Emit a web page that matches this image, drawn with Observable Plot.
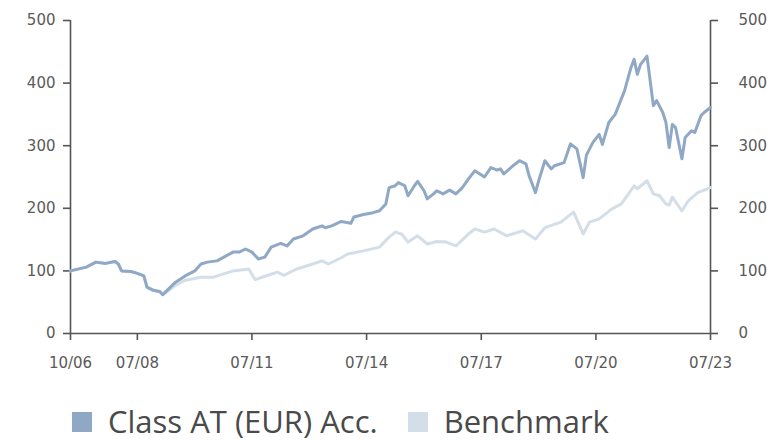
<!DOCTYPE html>
<html>
<head>
<meta charset="utf-8">
<script src="https://cdn.jsdelivr.net/npm/d3@7"></script>
<script src="https://cdn.jsdelivr.net/npm/@observablehq/plot@0.6"></script>
<style>
  html, body { margin: 0; padding: 0; background: #fff; }
  #chart { width: 771px; }
  .legend { display: flex; align-items: center; margin-top: 28px; padding-left: 72px; font-family: "Open Sans", sans-serif; font-size: 31px; line-height: 1.2; color: #4a4a4a; }
  .legend .item { display: flex; align-items: center; margin-right: 30px; }
  .legend .sw { width: 20px; height: 20px; margin-right: 16px; flex: none; }
</style>
</head>
<body>
<div id="chart"></div>
<script>
// ---- data ----
const seriesNames = ["Class AT (EUR) Acc.", "Benchmark"];
const seriesColors = ["#8fa8c5", "#d3dee9"];

const fundDates = ["2006-10","2007-03","2007-06","2007-09","2007-12","2008-01","2008-02","2008-05","2008-07","2008-09","2008-10","2008-12","2009-02","2009-03","2009-05","2009-07","2009-10","2010-01","2010-03","2010-05","2010-08","2011-01","2011-03","2011-05","2011-07","2011-09","2011-11","2012-01","2012-04","2012-06","2012-08","2012-11","2013-02","2013-05","2013-06","2013-08","2013-11","2014-02","2014-03","2014-06","2014-09","2014-11","2015-01","2015-02","2015-04","2015-05","2015-07","2015-08","2015-10","2015-11","2016-01","2016-02","2016-04","2016-05","2016-07","2016-09","2016-11","2017-01","2017-03","2017-05","2017-08","2017-10","2017-12","2018-01","2018-02","2018-05","2018-07","2018-09","2018-10","2018-12","2019-01","2019-03","2019-05","2019-06","2019-09","2019-11","2020-01","2020-03","2020-04","2020-06","2020-08","2020-09","2020-11","2021-01","2021-04","2021-06","2021-07","2021-08","2021-09","2021-11","2022-01","2022-02","2022-04","2022-05","2022-06","2022-07","2022-08","2022-10","2022-11","2023-01","2023-02","2023-04","2023-05","2023-07"];
const fundValues = [100,106,114,112,115,111,100,99,96,92,74,69,67,62,72,82,92,100,111,114,116,130,130,135,130,119,122,138,144,140,151,156,167,172,169,172,179,176,186,190,193,196,207,233,236,241,236,220,236,243,228,215,223,228,223,229,223,233,247,260,250,265,261,263,255,268,276,271,252,225,244,276,263,268,273,303,295,249,285,305,318,302,337,350,388,425,438,414,430,443,364,372,353,337,297,334,329,279,313,324,321,348,353,361];

const benchDates = ["2006-10","2007-03","2007-06","2007-09","2007-12","2008-01","2008-02","2008-05","2008-07","2008-09","2008-10","2008-12","2009-02","2009-03","2009-07","2009-10","2010-03","2010-07","2011-01","2011-06","2011-08","2011-12","2012-03","2012-05","2012-09","2013-02","2013-05","2013-07","2013-11","2014-01","2014-06","2014-11","2015-02","2015-04","2015-06","2015-08","2015-11","2016-02","2016-05","2016-08","2016-11","2017-03","2017-05","2017-08","2017-11","2018-03","2018-08","2018-12","2019-03","2019-08","2019-12","2020-03","2020-05","2020-08","2020-12","2021-03","2021-07","2021-08","2021-11","2022-01","2022-03","2022-05","2022-06","2022-07","2022-10","2022-12","2023-03","2023-07"];
const benchValues = [100,106,114,112,115,111,100,99,96,92,74,69,66,62,77,85,90,90,100,103,86,93,98,93,103,111,116,111,121,127,132,138,154,162,159,146,156,143,147,146,140,159,167,162,167,156,164,151,169,178,194,159,178,183,199,207,236,231,244,223,220,207,205,218,196,212,225,233];

const yTicks = [0, 100, 200, 300, 400, 500];
const xTickDates = ["2006-10","2008-07","2011-07","2014-07","2017-07","2020-07","2023-07"];
const xTickLabels = ["10/06","07/08","07/11","07/14","07/17","07/20","07/23"];
const xDomain = ["2006-10", "2023-07"];

// ---- build ----
const parse = d3.utcParse("%Y-%m");
const fund = fundDates.map((d, i) => ({date: parse(d), value: fundValues[i]}));
const bench = benchDates.map((d, i) => ({date: parse(d), value: benchValues[i]}));
const tickDates = xTickDates.map(parse);
const domain = xDomain.map(parse);
const labelFor = new Map(tickDates.map((d, i) => [+d, xTickLabels[i]]));
const axisColor = "#555";

const chart = Plot.plot({
  width: 771,
  height: 375,
  marginLeft: 70,
  marginRight: 61,
  marginTop: 20,
  marginBottom: 42,
  style: {fontFamily: "DejaVu Sans, sans-serif", fontSize: "15px", color: "#5a5a5a", background: "#fff"},
  x: {type: "utc", domain: domain},
  y: {domain: [0, 500]},
  marks: [
    Plot.ruleX(domain, {stroke: axisColor, strokeWidth: 1.6}),
    Plot.ruleY([0], {stroke: axisColor, strokeWidth: 1.6}),
    Plot.axisY({anchor: "left", ticks: yTicks, tickSize: 7, tickPadding: 8, stroke: axisColor, strokeWidth: 1.6, label: null}),
    Plot.axisY({anchor: "right", ticks: yTicks, tickSize: 7, tickPadding: 21, textAnchor: "start", stroke: axisColor, strokeWidth: 1.6, label: null}),
    Plot.axisX({ticks: tickDates, tickFormat: d => labelFor.get(+d), tickSize: 7, tickPadding: 17, stroke: axisColor, strokeWidth: 1.6, label: null}),
    Plot.line(bench, {x: "date", y: "value", stroke: seriesColors[1], strokeWidth: 3}),
    Plot.line(fund, {x: "date", y: "value", stroke: seriesColors[0], strokeWidth: 3})
  ]
});
document.getElementById("chart").appendChild(chart);

const legend = document.createElement("div");
legend.className = "legend";
seriesNames.forEach((name, i) => {
  const item = document.createElement("div");
  item.className = "item";
  const sw = document.createElement("span");
  sw.className = "sw";
  sw.style.background = seriesColors[i];
  const t = document.createElement("span");
  t.textContent = name;
  item.appendChild(sw);
  item.appendChild(t);
  legend.appendChild(item);
});
document.getElementById("chart").appendChild(legend);
</script>
</body>
</html>
